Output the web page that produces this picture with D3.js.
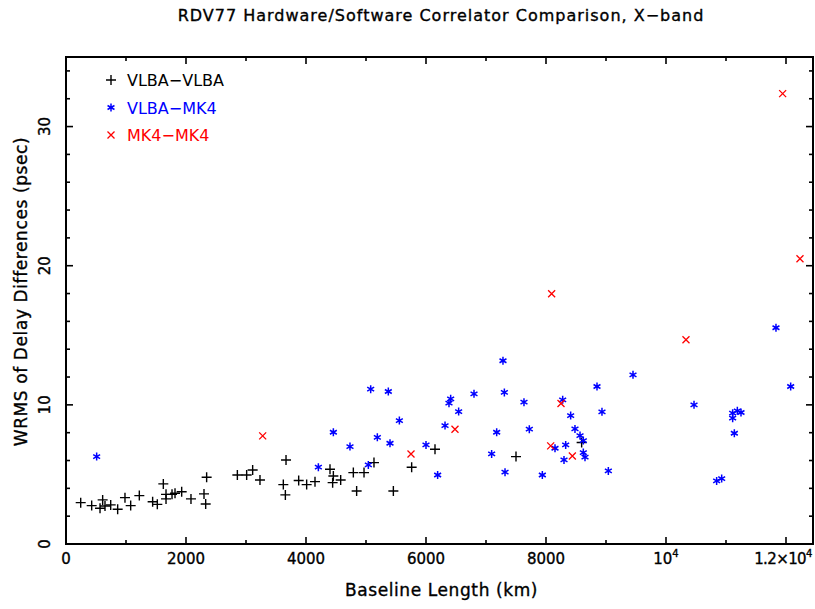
<!DOCTYPE html>
<html>
<head>
<meta charset="utf-8">
<script src="https://cdn.jsdelivr.net/npm/d3@7"></script>
<style>
  html, body { margin: 0; padding: 0; background: #fff; }
  svg { display: block; font-family: "DejaVu Sans", sans-serif; }
</style>
</head>
<body>
<svg id="chart" width="815" height="609"></svg>
<script>
// Baseline lengths (km) and WRMS delay differences (psec) per baseline type
const vlbaVlbaKm = [245, 428, 567, 611, 650, 745, 861, 983, 1078, 1222, 1444, 1522, 1622, 1667, 1667,
  1767, 1817, 1928, 2083, 2300, 2328, 2344, 2856, 3011, 3111, 3233, 3622, 3656, 3667, 3878, 4011,
  4150, 4400, 4456, 4444, 4578, 4789, 4844, 4967, 5133, 5456, 5761, 6150, 7500, 8594];
const vlbaVlbaPs = [2.97, 2.76, 2.57, 3.17, 2.73, 2.81, 2.50, 3.33, 2.76, 3.48, 3.04, 2.85, 4.32, 3.24, 3.57,
  3.57, 3.65, 3.76, 3.24, 3.60, 2.88, 4.80, 4.96, 4.96, 5.32, 4.60, 4.27, 3.53, 6.04, 4.56, 4.27,
  4.48, 5.37, 4.89, 4.41, 4.60, 5.13, 3.81, 5.13, 5.85, 3.81, 5.52, 6.81, 6.28, 7.30];

const vlbaMk4Km = [511, 4206, 4456, 4733, 5039, 5078, 5189, 5372, 5400, 5556, 6000, 6194, 6317, 6383,
  6411, 6544, 6800, 7283, 7178, 7094, 7306, 7317, 7633, 7722, 7939, 8150, 8278, 8411, 8850, 8933,
  8483, 8567, 8622, 8328, 8300, 8622, 8650, 9039, 9450, 10467, 10844, 10928, 11111, 11111, 11189,
  11250, 11139, 11833, 12078];
const vlbaMk4Ps = [6.28, 5.52, 8.03, 7.00, 5.68, 11.13, 7.67, 10.96, 7.24, 8.87, 7.12, 4.96, 8.51, 10.12,
  10.43, 9.52, 10.79, 13.17, 8.03, 6.47, 10.89, 5.16, 10.19, 8.25, 4.96, 6.88, 10.36, 9.23, 11.32, 9.50,
  8.27, 7.79, 7.43, 7.12, 6.04, 6.57, 6.24, 5.25, 12.16, 10.00, 4.53, 4.70, 9.40, 9.04, 9.57,
  9.45, 7.96, 15.54, 11.32];

const mk4Mk4Km = [3278, 5750, 6483, 8078, 8250, 8439, 8094, 10333, 11944, 12233];
const mk4Mk4Ps = [7.77, 6.47, 8.25, 7.05, 10.10, 6.33, 17.99, 14.68, 32.37, 20.50];

const seriesNames = ["VLBA\u2212VLBA", "VLBA\u2212MK4", "MK4\u2212MK4"];
const seriesColors = ["#000000", "#0000ff", "#ff0000"];
const xMajorTicks = [0, 2000, 4000, 6000, 8000, 10000, 12000];
const xTickLabels = ["0", "2000", "4000", "6000", "8000", "10^4", "1.2\u00d710^4"];
const yMajorTicks = [0, 10, 20, 30];

const svg = d3.select("#chart");
const margin = { left: 66, right: 2, top: 57, bottom: 65 };
const W = 815, H = 609;

const x = d3.scaleLinear().domain([0, 12450]).range([margin.left, W - margin.right]);
const y = d3.scaleLinear().domain([0, 35]).range([H - margin.bottom, margin.top]);

const x0 = x.range()[0], x1 = x.range()[1];
const y0 = y.range()[0], y1 = y.range()[1];

// Tick marks on all four sides, pointing inward
const xMinor = d3.range(0, 12451, 1000);
const yMinor = d3.range(0, 35.01, 2);
const g = svg.append("g").attr("stroke", "#000").attr("stroke-width", 1.6);
xMinor.forEach(v => {
  const len = v % 2000 === 0 ? 7 : 4;
  g.append("line").attr("x1", x(v)).attr("x2", x(v)).attr("y1", y0).attr("y2", y0 - len);
  g.append("line").attr("x1", x(v)).attr("x2", x(v)).attr("y1", y1).attr("y2", y1 + len);
});
yMinor.forEach(v => {
  const len = v % 10 === 0 ? 7 : 4;
  g.append("line").attr("y1", y(v)).attr("y2", y(v)).attr("x1", x0).attr("x2", x0 + len);
  g.append("line").attr("y1", y(v)).attr("y2", y(v)).attr("x1", x1).attr("x2", x1 - len);
});

// Frame
svg.append("rect")
  .attr("x", x0).attr("y", y1).attr("width", x1 - x0).attr("height", y0 - y1)
  .attr("fill", "none").attr("stroke", "#000").attr("stroke-width", 2);

// Slightly heavier text strokes
function heavy(sel, color) {
  return sel.attr("fill", color).attr("stroke", color).attr("stroke-width", 0.35);
}

// X tick labels (with superscript exponents); the last one is kept compact
xMajorTicks.forEach((v, i) => {
  const lab = xTickLabels[i];
  const last = i === xMajorTicks.length - 1;
  const t = heavy(svg.append("text").attr("x", x(v) - (last ? 3 : 0)).attr("y", y0 + 20)
    .attr("text-anchor", "middle").attr("font-size", 15)
    .attr("letter-spacing", last ? -0.6 : 0), "#000");
  const parts = lab.split("^");
  t.append("tspan").text(parts[0]);
  if (parts.length > 1) {
    t.append("tspan").attr("dy", -7).attr("font-size", 10).text(parts[1]);
  }
});

// Y tick labels, rotated
yMajorTicks.forEach(v => {
  heavy(svg.append("text")
    .attr("transform", `translate(${x0 - 16},${y(v)}) rotate(-90)`)
    .attr("text-anchor", "middle").attr("font-size", 15), "#000")
    .text(v);
});

// Axis titles and chart title
heavy(svg.append("text").attr("x", (x0 + x1) / 2 + 2).attr("y", 596)
  .attr("text-anchor", "middle").attr("font-size", 17).attr("letter-spacing", 0.6), "#000")
  .text("Baseline Length (km)");
heavy(svg.append("text")
  .attr("transform", `translate(27,${(y0 + y1) / 2 - 9}) rotate(-90)`)
  .attr("text-anchor", "middle").attr("font-size", 17).attr("letter-spacing", 0.6), "#000")
  .text("WRMS of Delay Differences (psec)");
heavy(svg.append("text").attr("x", 441).attr("y", 21)
  .attr("text-anchor", "middle").attr("font-size", 16).attr("letter-spacing", 1), "#000")
  .text("RDV77 Hardware/Software Correlator Comparison, X\u2212band");

// Marker glyphs
function plusPath(s) { return `M${-s},0H${s}M0,${-s}V${s}`; }
function crossPath(s) { return `M${-s},${-s}L${s},${s}M${-s},${s}L${s},${-s}`; }
function starPath(s) {
  const d = s * 0.866, h = s * 0.5;
  return `M0,${-s}V${s}M${-d},${-h}L${d},${h}M${-d},${h}L${d},${-h}`;
}
const markers = [
  { path: plusPath(5), width: 1.4 },
  { path: starPath(4), width: 1.5 },
  { path: crossPath(3.5), width: 1.3 }
];

function drawSeries(xs, ys, idx) {
  svg.append("g").selectAll("path")
    .data(d3.zip(xs, ys))
    .join("path")
    .attr("transform", d => `translate(${x(d[0])},${y(d[1])})`)
    .attr("d", markers[idx].path)
    .attr("fill", "none")
    .attr("stroke", seriesColors[idx])
    .attr("stroke-width", markers[idx].width);
}
drawSeries(vlbaVlbaKm, vlbaVlbaPs, 0);
drawSeries(vlbaMk4Km, vlbaMk4Ps, 1);
drawSeries(mk4Mk4Km, mk4Mk4Ps, 2);

// Legend
seriesNames.forEach((name, i) => {
  const ly = 80 + i * 27.5;
  svg.append("path").attr("transform", `translate(111,${ly})`)
    .attr("d", markers[i].path).attr("fill", "none")
    .attr("stroke", seriesColors[i]).attr("stroke-width", markers[i].width);
  svg.append("text").attr("x", 127).attr("y", ly + 6)
    .attr("font-size", 16).attr("fill", seriesColors[i]).text(name);
});
</script>
</body>
</html>
